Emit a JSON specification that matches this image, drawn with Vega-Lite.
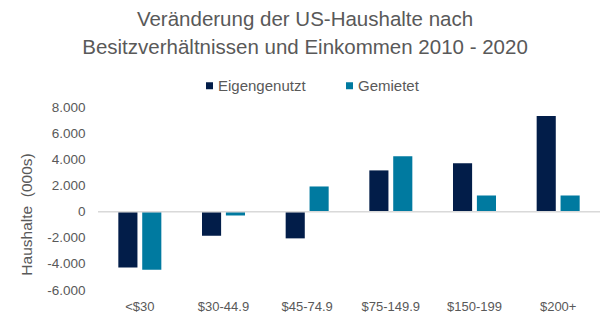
{
  "$schema": "https://vega.github.io/schema/vega-lite/v6.json",
  "width": 502,
  "height": 183,
  "autosize": {"type": "none"},
  "padding": {"left": 98, "top": 107, "right": 8, "bottom": 32},
  "background": "white",
  "config": {
    "view": {"stroke": null},
    "font": "Liberation Sans",
    "axisY": {
      "labelOverlap": false,
      "domain": false,
      "ticks": false,
      "grid": false,
      "labelFontSize": 13.5,
      "labelColor": "#595959",
      "labelPadding": 13,
      "titleFontSize": 15.5,
      "titleFontWeight": "normal",
      "titleColor": "#595959",
      "titlePadding": 12
    },
    "axisX": {
      "domain": false,
      "ticks": false,
      "grid": false,
      "labelAngle": 0,
      "labelFontSize": 13,
      "labelColor": "#595959",
      "labelPadding": 10
    }
  },
  "title": {
    "text": ["Veränderung der US-Haushalte nach", "Besitzverhältnissen und Einkommen 2010 - 2020"],
    "fontSize": 20.5,
    "fontWeight": "normal",
    "color": "#595959",
    "anchor": "middle",
    "frame": "group",
    "dx": -44,
    "lineHeight": 28,
    "offset": 20
  },
  "data": {
    "values": [
      {"Einkommen": "<$30", "Typ": "Eigengenutzt", "Wert": -4280},
      {"Einkommen": "<$30", "Typ": "Gemietet", "Wert": -4460},
      {"Einkommen": "$30-44.9", "Typ": "Eigengenutzt", "Wert": -1850},
      {"Einkommen": "$30-44.9", "Typ": "Gemietet", "Wert": -300},
      {"Einkommen": "$45-74.9", "Typ": "Eigengenutzt", "Wert": -2050},
      {"Einkommen": "$45-74.9", "Typ": "Gemietet", "Wert": 1920},
      {"Einkommen": "$75-149.9", "Typ": "Eigengenutzt", "Wert": 3150},
      {"Einkommen": "$75-149.9", "Typ": "Gemietet", "Wert": 4230},
      {"Einkommen": "$150-199", "Typ": "Eigengenutzt", "Wert": 3690},
      {"Einkommen": "$150-199", "Typ": "Gemietet", "Wert": 1230},
      {"Einkommen": "$200+", "Typ": "Eigengenutzt", "Wert": 7310},
      {"Einkommen": "$200+", "Typ": "Gemietet", "Wert": 1230}
    ]
  },
  "layer": [
    {
      "mark": {"type": "bar"},
      "encoding": {
        "x": {
          "field": "Einkommen",
          "type": "nominal",
          "sort": null,
          "scale": {"paddingInner": 0.486, "paddingOuter": 0.243},
          "axis": {"title": null}
        },
        "xOffset": {
          "field": "Typ",
          "type": "nominal",
          "scale": {"paddingInner": 0.2, "paddingOuter": 0}
        },
        "y": {
          "field": "Wert",
          "type": "quantitative",
          "scale": {"domain": [-6000, 8000], "nice": false},
          "axis": {
            "values": [-6000, -4000, -2000, 0, 2000, 4000, 6000, 8000],
            "tickCount": 8,
            "labelExpr": "replace(replace(format(datum.value, ',.0f'), ',', '.'), '\u2212', '-')",
            "labelOverlap": false,
            "title": "Haushalte \u00a0(000s)",
            "titleY": 107
          }
        },
        "color": {
          "field": "Typ",
          "type": "nominal",
          "scale": {"domain": ["Eigengenutzt", "Gemietet"], "range": ["#021D49", "#007AA0"]},
          "legend": {
            "title": null,
            "orient": "none",
            "direction": "horizontal",
            "legendX": 104,
            "legendY": -29,
            "symbolType": "square",
            "symbolSize": 49,
            "symbolStrokeWidth": 0,
            "labelFontSize": 15,
            "labelColor": "#595959",
            "labelOffset": 1,
            "columnPadding": 36
          }
        }
      }
    },
    {
      "mark": {"type": "rule", "color": "#D9D9D9", "strokeWidth": 1},
      "encoding": {
        "y": {"datum": 0, "type": "quantitative"}
      }
    }
  ]
}
